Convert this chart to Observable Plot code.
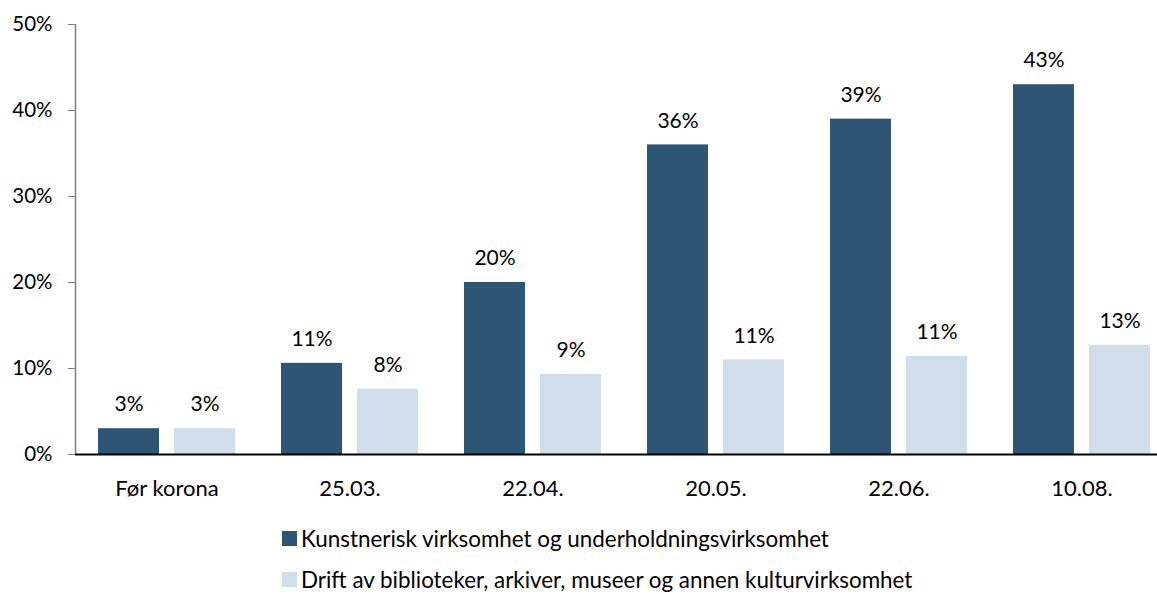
<!DOCTYPE html>
<html>
<head>
<meta charset="utf-8">
<script src="https://cdn.jsdelivr.net/npm/d3@7"></script>
<script src="https://cdn.jsdelivr.net/npm/@observablehq/plot@0.6"></script>
<style>
  html, body { margin: 0; padding: 0; background: #fff; overflow: hidden; }
  body { font-family: Lato, "Open Sans", sans-serif; }
  #legend { margin-left: 282px; margin-top: 18px; font-size: 22.4px; color: #000; }
  .item { display: flex; align-items: center; height: 41px; }
  .sw { width: 15px; height: 15px; margin-right: 4px; }
</style>
</head>
<body>
<div id="chart"></div>
<div id="legend"></div>
<script>
const categories = ["Før korona", "25.03.", "22.04.", "20.05.", "22.06.", "10.08."];
const seriesNames = [
  "Kunstnerisk virksomhet og underholdningsvirksomhet",
  "Drift av biblioteker, arkiver, museer og annen kulturvirksomhet"
];
const kunst = [3.0, 10.6, 20.0, 36.0, 39.0, 43.0];
const drift = [3.0, 7.6, 9.3, 11.0, 11.4, 12.7];
const yTicks = [0, 10, 20, 30, 40, 50];
const colors = ["#2F5574", "#CFDEEA"];

const dataA = categories.map((c, i) => ({cat: c, value: kunst[i]}));
const dataB = categories.map((c, i) => ({cat: c, value: drift[i]}));
const fmt = v => Math.round(v) + "%";

const plot = Plot.plot({
  width: 1157,
  height: 500,
  marginTop: 24,
  marginBottom: 46,
  marginLeft: 75,
  marginRight: 0,
  style: {fontFamily: "Lato, 'Open Sans', sans-serif", fontSize: "22px", color: "#000", background: "#fff"},
  x: {type: "band", domain: categories, range: [75, 1173], padding: 0, label: null},
  y: {domain: [0, 50], ticks: yTicks, label: null},
  marks: [
    Plot.barY(dataA, {x: "cat", y: "value", fill: colors[0], insetLeft: 23, insetRight: 99}),
    Plot.barY(dataB, {x: "cat", y: "value", fill: colors[1], insetLeft: 99, insetRight: 23}),
    Plot.text(dataA, {x: "cat", y: "value", text: d => fmt(d.value), dx: -38, dy: -24, lineAnchor: "middle", fill: "#000", fontSize: 21}),
    Plot.text(dataB, {x: "cat", y: "value", text: d => fmt(d.value), dx: 38, dy: -24, lineAnchor: "middle", fill: "#000", fontSize: 21}),
    Plot.ruleX([categories[0]], {y1: 0, y2: 50, dx: -91.5, stroke: "#7f7f7f", strokeWidth: 1.5}),
    Plot.axisY({ticks: yTicks, tickFormat: d => d + "%", tickSize: 7, tickPadding: 16, stroke: "#7f7f7f", fill: "#000", label: null, fontSize: 20.5}),
    Plot.axisX({tickSize: 0, tickPadding: 26, label: null, fill: "#000", fontSize: 22}),
    Plot.ruleY([0], {stroke: "#000", strokeWidth: 2})
  ]
});
document.getElementById("chart").appendChild(plot);

const legend = document.getElementById("legend");
seriesNames.forEach((name, i) => {
  const row = document.createElement("div");
  row.className = "item";
  const sw = document.createElement("div");
  sw.className = "sw";
  sw.style.background = colors[i];
  const label = document.createElement("span");
  label.textContent = name;
  row.appendChild(sw);
  row.appendChild(label);
  legend.appendChild(row);
});
</script>
</body>
</html>
